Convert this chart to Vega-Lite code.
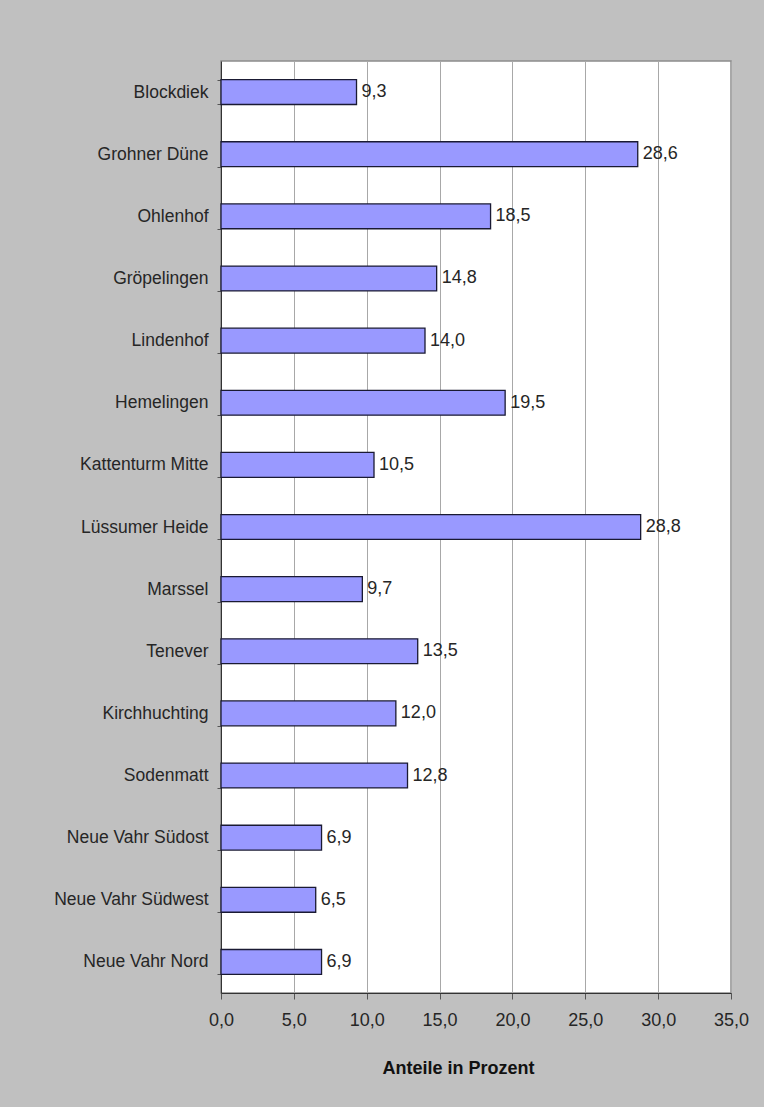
{
  "$schema": "https://vega.github.io/schema/vega-lite/v6.json",
  "width": 510,
  "height": 932,
  "autosize": {"type": "none"},
  "padding": {"left": 221, "top": 61, "right": 33, "bottom": 114},
  "background": "#c0c0c0",
  "data": {
    "values": [
      {"gebiet": "Blockdiek", "anteil": 9.3},
      {"gebiet": "Grohner Düne", "anteil": 28.6},
      {"gebiet": "Ohlenhof", "anteil": 18.5},
      {"gebiet": "Gröpelingen", "anteil": 14.8},
      {"gebiet": "Lindenhof", "anteil": 14.0},
      {"gebiet": "Hemelingen", "anteil": 19.5},
      {"gebiet": "Kattenturm Mitte", "anteil": 10.5},
      {"gebiet": "Lüssumer Heide", "anteil": 28.8},
      {"gebiet": "Marssel", "anteil": 9.7},
      {"gebiet": "Tenever", "anteil": 13.5},
      {"gebiet": "Kirchhuchting", "anteil": 12.0},
      {"gebiet": "Sodenmatt", "anteil": 12.8},
      {"gebiet": "Neue Vahr Südost", "anteil": 6.9},
      {"gebiet": "Neue Vahr Südwest", "anteil": 6.5},
      {"gebiet": "Neue Vahr Nord", "anteil": 6.9}
    ]
  },
  "encoding": {
    "y": {
      "field": "gebiet",
      "type": "nominal",
      "sort": null,
      "scale": {"paddingInner": 0.6, "paddingOuter": 0.3},
      "axis": {
        "title": null,
        "tickBand": "extent",
        "tickSize": 4,
        "labelPadding": 9,
        "labelFontSize": 17.5,
        "labelColor": "#262626",
        "labelFont": "Liberation Sans",
        "domainColor": "#333333",
        "tickColor": "#555555",
        "grid": false
      }
    },
    "x": {
      "field": "anteil",
      "type": "quantitative",
      "scale": {"domain": [0, 35], "nice": false},
      "axis": {
        "title": "Anteile in Prozent",
        "titleX": 237,
        "values": [0, 5, 10, 15, 20, 25, 30, 35],
        "format": ".1f",
        "labelFlush": false,
        "tickSize": 6,
        "labelPadding": 12,
        "labelFontSize": 18,
        "labelColor": "#262626",
        "labelFont": "Liberation Sans",
        "titleFont": "Liberation Sans",
        "titleFontSize": 18,
        "titleFontWeight": "bold",
        "titleColor": "#111111",
        "titlePadding": 30,
        "domainColor": "#333333",
        "tickColor": "#555555",
        "grid": true,
        "gridColor": "#a8a8a8",
        "gridWidth": 1
      }
    }
  },
  "layer": [
    {
      "mark": {"type": "bar", "fill": "#9999ff", "stroke": "#1a1a33", "strokeWidth": 1.3}
    },
    {
      "mark": {"type": "text", "align": "left", "baseline": "middle", "dx": 5, "fontSize": 18, "font": "Liberation Sans", "color": "#262626"},
      "encoding": {
        "text": {"field": "anteil", "type": "quantitative", "format": ".1f"}
      }
    }
  ],
  "config": {
    "locale": {
      "number": {"decimal": ",", "thousands": ".", "grouping": [3], "currency": ["", " €"]}
    },
    "view": {"fill": "#ffffff", "stroke": "#8c8c8c", "strokeWidth": 1.5}
  }
}
